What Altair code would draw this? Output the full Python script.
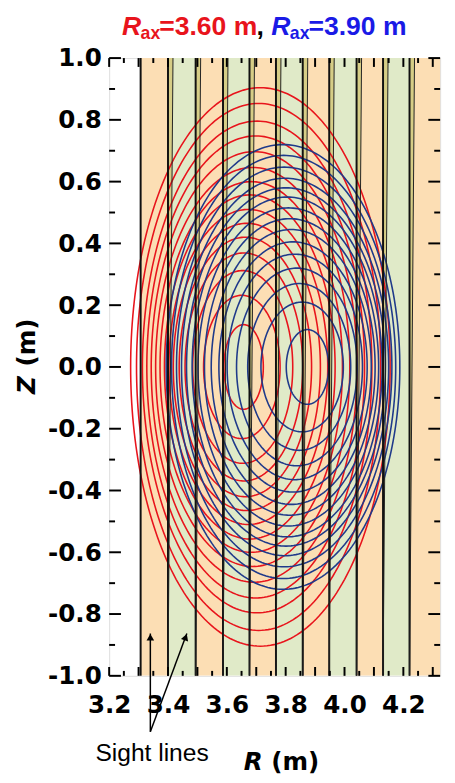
import altair as alt
import numpy as np
import pandas as pd

# ---------------- data ----------------
# flux surfaces approximated as ellipses: centre R, half-width a, half-height b
red_center = [3.657, 3.651, 3.654, 3.658, 3.663, 3.668, 3.673, 3.678, 3.683, 3.688, 3.693, 3.698, 3.703, 3.708, 3.714]
red_a = [0.067, 0.130, 0.170, 0.200, 0.225, 0.250, 0.270, 0.290, 0.310, 0.330, 0.350, 0.370, 0.390, 0.415, 0.441]
red_b = [0.137, 0.232, 0.312, 0.369, 0.420, 0.465, 0.510, 0.557, 0.600, 0.646, 0.697, 0.748, 0.796, 0.853, 0.904]

blue_center = [3.874, 3.856, 3.846, 3.838, 3.831, 3.825, 3.819, 3.814, 3.809, 3.805, 3.801, 3.798, 3.795, 3.793, 3.791]
blue_a = [0.072, 0.140, 0.175, 0.205, 0.230, 0.252, 0.272, 0.290, 0.307, 0.323, 0.338, 0.352, 0.366, 0.381, 0.397]
blue_b = [0.121, 0.210, 0.270, 0.320, 0.365, 0.405, 0.445, 0.480, 0.515, 0.550, 0.580, 0.611, 0.647, 0.685, 0.720]

# sight-line chord edges (R at the bottom of the frame)
chord_edges = [3.307, 3.400, 3.494, 3.587, 3.677, 3.767, 3.858, 3.948, 4.041, 4.131, 4.221, 4.330]
chord_spread = 0.017  # widening of the overlap strip at the top

x_labels = [3.2, 3.4, 3.6, 3.8, 4.0, 4.2]
y_labels = [-1.0, -0.8, -0.6, -0.4, -0.2, 0.0, 0.2, 0.4, 0.6, 0.8, 1.0]

# arrows of the "Sight lines" annotation (R, Z)
arrow_tail = (3.340, -1.181)
arrow_tips = [(3.340, -0.863), (3.464, -0.863)]

# ---------------- styling ----------------
W, H = 337, 629
XDOM = [3.2, 4.325]
YDOM = [-1.0, 1.0]
ORANGE = "#FCDEB4"
GREEN = "#E0EAC8"
OLIVE = "#D6CD86"
RED = "#E8141C"
BLUE = "#1F3A8A"
T_RED = "#E8141C"
T_BLUE = "#1A1AE6"

xs = alt.Scale(domain=XDOM, nice=False, zero=False)
ys = alt.Scale(domain=YDOM, nice=False, zero=False)

# ---------------- tables ----------------
bands = pd.DataFrame({
    "left": chord_edges[:-1],
    "right": chord_edges[1:],
    "fill": [ORANGE if i % 2 == 0 else GREEN for i in range(len(chord_edges) - 1)],
})

wedge_rows, slant_rows = [], []
for k, b in enumerate(chord_edges[1:-1]):
    wedge_rows.append({"k": k, "Z": -1.0, "x": b, "x2": b})
    wedge_rows.append({"k": k, "Z": 1.0, "x": b, "x2": b + chord_spread})
    slant_rows.append({"k": k, "Z": -1.0, "R": b})
    slant_rows.append({"k": k, "Z": 1.0, "R": b + chord_spread})
wedges = pd.DataFrame(wedge_rows)
slants = pd.DataFrame(slant_rows)
rules = pd.DataFrame({"R": chord_edges[:-1]})


def surfaces(cs, As, Bs):
    t = np.linspace(0, 2 * np.pi, 241)
    frames = []
    for i, (c, a, b) in enumerate(zip(cs, As, Bs)):
        frames.append(pd.DataFrame({"id": i, "k": np.arange(len(t)),
                                    "R": c + a * np.cos(t), "Z": b * np.sin(t)}))
    return pd.concat(frames, ignore_index=True)


red_df = surfaces(red_center, red_a, red_b)
blue_df = surfaces(blue_center, blue_a, blue_b)

# ---------------- layers ----------------
band_layer = alt.Chart(bands).mark_rect(clip=True).encode(
    x=alt.X("left:Q", scale=xs), x2="right:Q",
    y=alt.value(0), y2=alt.value(H),
    color=alt.Color("fill:N", scale=None))

wedge_layer = alt.Chart(wedges).mark_area(orient="horizontal", clip=True, color=OLIVE).encode(
    y=alt.Y("Z:Q", scale=ys), x=alt.X("x:Q", scale=xs), x2="x2:Q", detail="k:N")


def contour_layer(df, col):
    return alt.Chart(df).mark_line(clip=True, color=col, strokeWidth=1.6).encode(
        x=alt.X("R:Q", scale=xs), y=alt.Y("Z:Q", scale=ys),
        detail="id:N", order="k:Q")


rule_layer = alt.Chart(rules).mark_rule(color="#111111", strokeWidth=2).encode(
    x=alt.X("R:Q", scale=xs))

slant_layer = alt.Chart(slants).mark_line(color="#222222", strokeWidth=1, clip=True).encode(
    x=alt.X("R:Q", scale=xs), y=alt.Y("Z:Q", scale=ys), detail="k:N", order="Z:Q")

# ticks (inward on four sides)
zt = np.round(np.arange(-1.0, 1.0001, 0.1), 2)
zmaj = pd.DataFrame({"Z": [z for z in zt if abs(round(z / 0.2) * 0.2 - z) < 1e-6]})
zmin = pd.DataFrame({"Z": [z for z in zt if abs(round(z / 0.2) * 0.2 - z) >= 1e-6]})
rt = np.round(np.arange(3.2, 4.3001, 0.05), 3)
rmaj = pd.DataFrame({"R": [r for r in rt if abs(round(r / 0.1) * 0.1 - r) < 1e-6]})
rmin = pd.DataFrame({"R": [r for r in rt if abs(round(r / 0.1) * 0.1 - r) >= 1e-6]})


def ytick(df, x0, x1):
    return alt.Chart(df).mark_rule(color="black", strokeWidth=2).encode(
        y=alt.Y("Z:Q", scale=ys), x=alt.value(x0), x2=alt.value(x1))


def xtick(df, y0, y1):
    return alt.Chart(df).mark_rule(color="black", strokeWidth=2).encode(
        x=alt.X("R:Q", scale=xs), y=alt.value(y0), y2=alt.value(y1))


tick_layers = [
    ytick(zmaj, 0, 12), ytick(zmin, 0, 6), ytick(zmaj, W, W - 12), ytick(zmin, W, W - 6),
    xtick(rmaj, H, H - 9), xtick(rmin, H, H - 5), xtick(rmaj, 0, 9), xtick(rmin, 0, 5),
]

# axes (labels only)
lab_expr = "(datum.value < 0 ? '-' : '') + format(abs(datum.value), '.1f')"
common = dict(labelExpr=lab_expr, ticks=False, domain=False, grid=False, title=None,
              labelFont="DejaVu Sans", labelFontWeight="bold", labelFontSize=25,
              labelColor="black", labelOverlap=False, labelBound=False, labelFlush=False)
axis_layer = alt.Chart(pd.DataFrame({"R": [3.2], "Z": [0.0]})).mark_point(opacity=0).encode(
    x=alt.X("R:Q", scale=xs, axis=alt.Axis(values=x_labels, labelPadding=17, **common)),
    y=alt.Y("Z:Q", scale=ys, axis=alt.Axis(values=y_labels, labelPadding=8, **common)),
)


def txt(s, x, y, color="black", size=26, font="Liberation Sans", weight="bold",
        style="normal", angle=0, align="left"):
    return alt.Chart(pd.DataFrame({"t": [s]})).mark_text(
        x=x, y=y, align=align, baseline="alphabetic", font=font, fontSize=size,
        fontWeight=weight, fontStyle=style, color=color, angle=angle).encode(text="t:N")


ty, sy = -24, -19
title_layers = [
    txt("R", 13, ty, T_RED, size=27, style="italic"),
    txt("ax", 32, sy, T_RED, size=18),
    txt("=3.60 m", 51, ty, T_RED, size=27),
    txt(",", 150, ty, "black", size=27),
    txt("R", 165, ty, T_BLUE, size=27, style="italic"),
    txt("ax", 184, sy, T_BLUE, size=18),
    txt("=3.90 m", 203, ty, T_BLUE, size=27),
    # axis titles
    txt("R", 137, 725, size=25, font="DejaVu Sans", style="italic"),
    txt("(m)", 165, 725, size=25, font="DejaVu Sans"),
    txt("Z", -76, 342, size=25, font="DejaVu Sans", style="italic", angle=270),
    txt("(m)", -76, 314, size=25, font="DejaVu Sans", angle=270),
    # annotation
    txt("Sight lines", -14, 716, size=25, weight="normal"),
]

arrow_rows = []
for i, tip in enumerate(arrow_tips):
    arrow_rows.append({"id": i, "o": 0, "R": arrow_tail[0], "Z": arrow_tail[1]})
    arrow_rows.append({"id": i, "o": 1, "R": tip[0], "Z": tip[1]})
arrows = pd.DataFrame(arrow_rows)
arrow_line = alt.Chart(arrows).mark_line(color="black", strokeWidth=1.5, clip=False).encode(
    x=alt.X("R:Q", scale=xs), y=alt.Y("Z:Q", scale=ys), detail="id:N", order="o:Q")

heads = pd.DataFrame({"R": [arrow_tips[0][0], arrow_tips[1][0] - 0.004],
                      "Z": [arrow_tips[0][1] - 0.012, arrow_tips[1][1] - 0.012],
                      "ang": [0, 20]})
arrow_head = alt.Chart(heads).mark_point(shape="triangle-up", filled=True, size=60,
                                         color="black", opacity=1).encode(
    x=alt.X("R:Q", scale=xs), y=alt.Y("Z:Q", scale=ys),
    angle=alt.Angle("ang:Q", scale=None))

chart = alt.layer(
    band_layer, wedge_layer,
    contour_layer(red_df, RED), contour_layer(blue_df, BLUE),
    rule_layer, slant_layer, axis_layer, *tick_layers,
    arrow_line, arrow_head, *title_layers,
).properties(
    width=W, height=H,
    autosize=alt.AutoSizeParams(type="none"),
    padding={"left": 103, "top": 44, "right": 7, "bottom": 94},
).configure_view(stroke="black", strokeWidth=2.5).configure(background="white")

chart.save("out.html", embed_options={"renderer": "svg", "actions": False})
